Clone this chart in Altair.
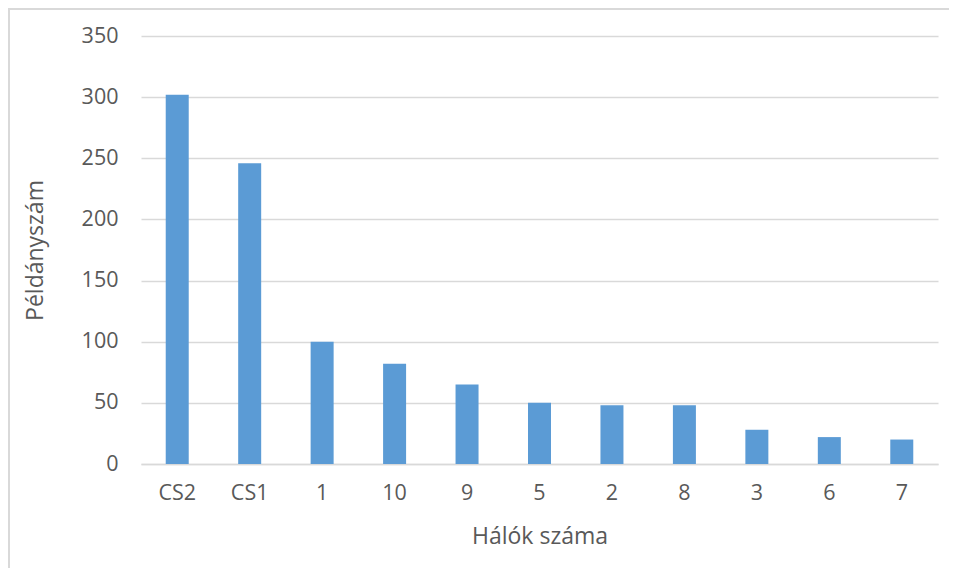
import altair as alt
import pandas as pd

categories = ["CS2", "CS1", "1", "10", "9", "5", "2", "8", "3", "6", "7"]
values = [302, 246, 100, 82, 65, 50, 48, 48, 28, 22, 20]

df = pd.DataFrame({"cat": categories, "val": values})

FONT = "Open Sans"
GRAY = "#595959"
GRID = "#d9d9d9"

bars = alt.Chart(df).mark_bar(color="#5b9bd5", size=23).encode(
    x=alt.X("cat:N", sort=categories, title="Hálók száma",
            scale=alt.Scale(paddingInner=0, paddingOuter=0),
            axis=alt.Axis(labelAngle=0, ticks=False, domain=True, domainColor=GRID,
                          domainWidth=1.5, labelPadding=18, titlePadding=22,
                          labelFontSize=21.5, titleFontSize=23, labelColor=GRAY,
                          titleColor=GRAY, labelFont=FONT, titleFont=FONT,
                          titleFontWeight="normal")),
    y=alt.Y("val:Q", title="Példányszám",
            scale=alt.Scale(domain=[0, 350], nice=False),
            axis=alt.Axis(values=[0, 50, 100, 150, 200, 250, 300, 350], ticks=False,
                          domain=False, gridColor=GRID, gridWidth=1.5,
                          labelPadding=23, titlePadding=34, labelFontSize=21.5,
                          titleFontSize=23, labelColor=GRAY, titleColor=GRAY,
                          labelFont=FONT, titleFont=FONT, titleFontWeight="normal")),
)

left_border = alt.Chart(df).mark_rule(color=GRID, strokeWidth=1.5).encode(
    x=alt.value(-132), y=alt.value(-28), y2=alt.value(532))
top_border = alt.Chart(df).mark_rule(color=GRID, strokeWidth=1.5).encode(
    x=alt.value(-133), x2=alt.value(808), y=alt.value(-27))

chart = alt.layer(bars, left_border, top_border).properties(
    width=797, height=428,
    autosize=alt.AutoSizeParams(type="none"),
    padding={"left": 133, "top": 28, "right": 11, "bottom": 104},
).configure_view(stroke=None)

chart.save("out.html", embed_options={"renderer": "svg", "actions": False})
